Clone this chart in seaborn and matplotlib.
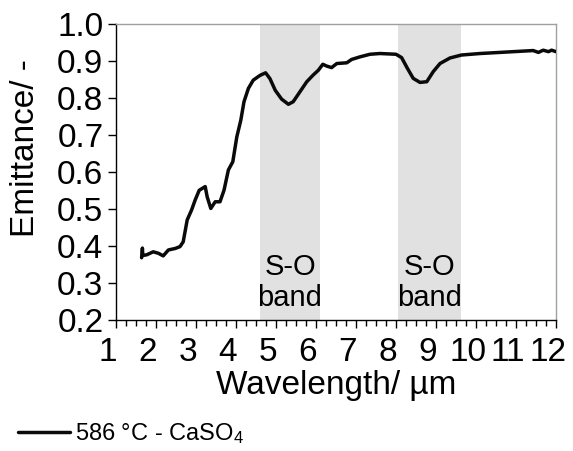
import matplotlib
matplotlib.use("Agg")
import matplotlib.pyplot as plt
import matplotlib.transforms as mtransforms
from matplotlib.ticker import MultipleLocator
import pandas as pd
import seaborn as sns

# Emission spectrum of CaSO4 at 586 °C
wavelength = [1.64, 1.66, 1.67, 1.77, 1.93, 2.06, 2.18, 2.31, 2.48, 2.60, 2.68, 2.78,
              2.89, 2.98, 3.08, 3.23, 3.28, 3.37, 3.48, 3.60, 3.70, 3.81, 3.92, 4.02,
              4.12, 4.20, 4.31, 4.43, 4.60, 4.74, 4.85, 4.98, 5.14, 5.31, 5.43, 5.60,
              5.77, 5.93, 6.06, 6.17, 6.27, 6.39, 6.52, 6.77, 6.89, 7.10, 7.35, 7.60,
              8.00, 8.14, 8.28, 8.43, 8.60, 8.77, 8.93, 9.10, 9.35, 9.64, 10.10, 10.93,
              11.43, 11.56, 11.68, 11.81, 11.89, 12.00]
emittance = [0.368, 0.394, 0.374, 0.376, 0.384, 0.380, 0.373, 0.389, 0.393, 0.398, 0.411, 0.470,
             0.497, 0.524, 0.550, 0.560, 0.532, 0.501, 0.519, 0.519, 0.550, 0.605, 0.627, 0.694,
             0.739, 0.789, 0.825, 0.847, 0.860, 0.867, 0.851, 0.820, 0.796, 0.782, 0.789, 0.816,
             0.843, 0.861, 0.874, 0.890, 0.885, 0.881, 0.892, 0.894, 0.903, 0.910, 0.917, 0.919,
             0.917, 0.908, 0.880, 0.852, 0.841, 0.843, 0.870, 0.892, 0.907, 0.915, 0.919, 0.924,
             0.927, 0.922, 0.928, 0.924, 0.928, 0.924]
series_label = "586 °C - CaSO$_4$"

# S-O absorption bands (start, end) in µm
band_starts = [4.6, 8.05]
band_ends = [6.1, 9.62]
band_text = "S-O\nband"

x_ticks = list(range(1, 13))
y_ticks = [0.2, 0.3, 0.4, 0.5, 0.6, 0.7, 0.8, 0.9, 1.0]

sns.set_theme(style="white")
plt.rcParams["font.family"] = ["Liberation Sans", "DejaVu Sans"]
plt.rcParams["mathtext.fontset"] = "custom"
plt.rcParams["mathtext.rm"] = "Liberation Sans"
plt.rcParams["mathtext.it"] = "Liberation Sans"
for key in ["text.color", "axes.labelcolor", "xtick.color", "ytick.color"]:
    plt.rcParams[key] = "black"

fig = plt.figure(figsize=(5.73, 4.51), dpi=100)
ax = fig.add_axes([116 / 573, 1 - 320 / 451, 440 / 573, 296.5 / 451])

for s, e in zip(band_starts, band_ends):
    ax.axvspan(s, e, color="#e1e1e1", lw=0, zorder=0)
    ax.text((s + e) / 2, 0.301, band_text, ha="center", va="center",
            fontsize=21, color="black", linespacing=1.16, zorder=1)

df = pd.DataFrame({"Wavelength": wavelength, "Emittance": emittance})
sns.lineplot(data=df, x="Wavelength", y="Emittance", ax=ax, color="#0a0a0a",
             lw=2.5, sort=False, estimator=None, label=series_label, zorder=3)

ax.set_xlim(1, 12)
ax.set_ylim(0.2, 1.0)
ax.set_xticks(x_ticks)
ax.set_xticklabels([str(t) for t in x_ticks])
ax.xaxis.set_minor_locator(MultipleLocator(0.25))
ax.set_yticks(y_ticks)
ax.set_yticklabels([f"{t:.1f}" for t in y_ticks])

ax.tick_params(axis="x", which="major", direction="out", length=6, width=1,
               color="black", labelcolor="black", labelsize=24, pad=6, bottom=True)
ax.tick_params(axis="x", which="minor", direction="out", length=4.5, width=1,
               color="black", bottom=True)
ax.tick_params(axis="y", which="major", direction="out", length=6, width=1,
               color="black", labelcolor="black", labelsize=24, pad=3, left=True)

# tick labels sit slightly left of their ticks
shift = mtransforms.ScaledTranslation(-8 / 100, 0, fig.dpi_scale_trans)
for lab in ax.get_xticklabels():
    lab.set_transform(lab.get_transform() + shift)

for side in ["left", "bottom"]:
    ax.spines[side].set_color("black")
    ax.spines[side].set_linewidth(1)
for side in ["top", "right"]:
    ax.spines[side].set_color("#a0a0a0")
    ax.spines[side].set_linewidth(1)

ax.set_xlabel("Wavelength/ µm", fontsize=24, labelpad=2, color="black")
ax.set_ylabel("Emittance/ -", fontsize=24, va="center", color="black")
ax.yaxis.set_label_coords((26 - 116) / 440, (320 - 148) / 296.5)

leg = ax.legend(loc="center left", bbox_to_anchor=(18 / 573, 1 - 434 / 451),
                bbox_transform=fig.transFigure, frameon=False, fontsize=17,
                handlelength=2.2, handletextpad=0.2, borderpad=0, borderaxespad=0)
for t in leg.get_texts():
    t.set_color("black")

fig.savefig("out.png", dpi=100)
